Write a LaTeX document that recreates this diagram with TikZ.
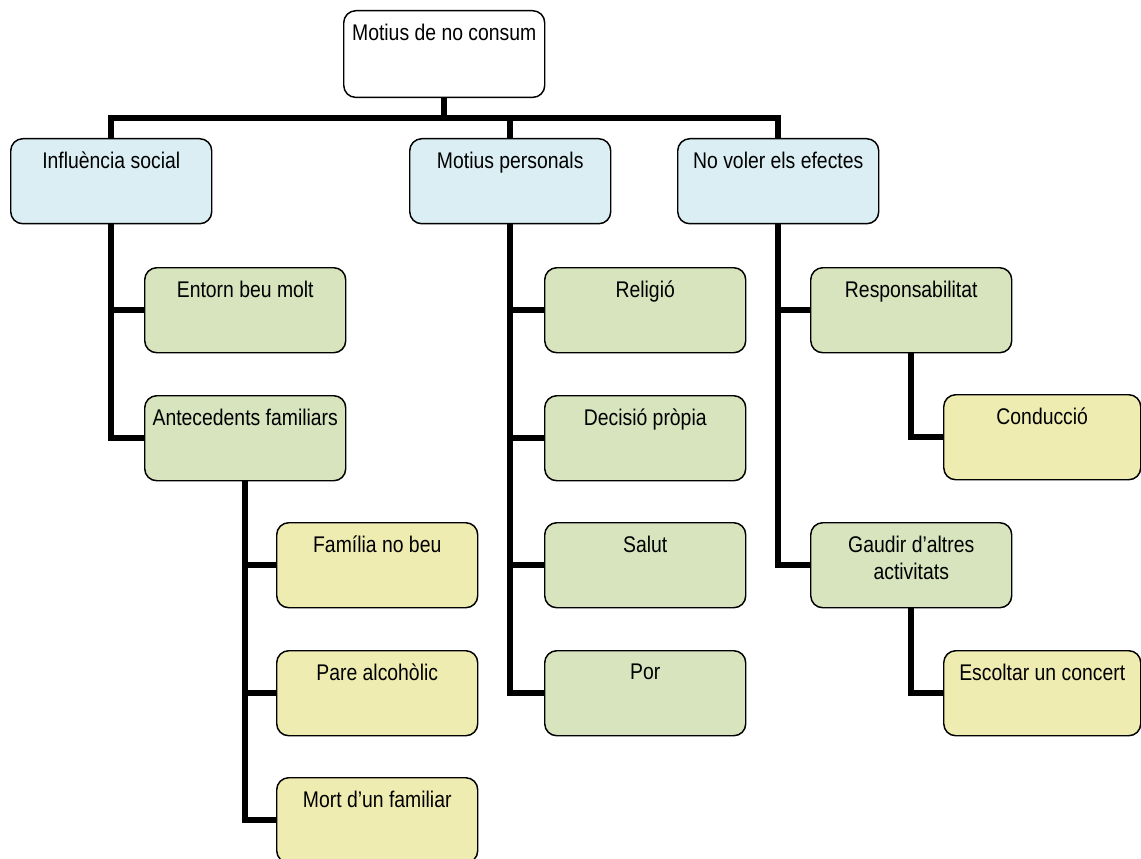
\documentclass[tikz,border=0pt]{standalone}
\usepackage{fontspec}
\setmainfont[FakeStretch=0.855]{Liberation Sans}
\usetikzlibrary{positioning, calc}
\definecolor{rootwhite}{HTML}{FFFFFF}
\definecolor{lvlblue}{HTML}{DAEEF3}
\definecolor{lvlgreen}{HTML}{D7E4BD}
\definecolor{lvlyellow}{HTML}{EEECB1}

\begin{document}
\begin{tikzpicture}[
    x=0.75pt, y=-0.75pt,
    box/.style={rectangle, draw, rounded corners=9pt, line width=1.1pt,
                minimum width=150.75pt, minimum height=63.75pt,
                anchor=north west, inner sep=0pt},
    narrowbox/.style={box, minimum width=147.75pt},
    lbl/.style={font=\fontsize{17}{20.3}\selectfont, align=center,
                inner sep=0pt, anchor=north, yshift=-10pt},
    link/.style={line width=4.5pt, line join=miter}
]
    \useasboundingbox (0,0) rectangle (1141,859);

    % top level
    \node[box, fill=rootwhite, minimum height=65pt] (root) at (343,10)
      [label={[lbl]north:Motius de no consum}] {};
    \node[box, fill=lvlblue] (social) at (10,138)
      [label={[lbl]north:Influència social}] {};
    \node[box, fill=lvlblue] (personal) at (409,138)
      [label={[lbl]north:Motius personals}] {};
    \node[box, fill=lvlblue] (effects) at (677,138)
      [label={[lbl]north:No voler els efectes}] {};

    % influencia social
    \node[box, fill=lvlgreen] (crowd) at (144,267)
      [label={[lbl]north:Entorn beu molt}] {};
    \node[box, fill=lvlgreen] (family) at (144,395)
      [label={[lbl]north:Antecedents familiars}] {};
    \node[box, fill=lvlyellow] (nodrink) at (276,522)
      [label={[lbl]north:Família no beu}] {};
    \node[box, fill=lvlyellow] (alcfather) at (276,650)
      [label={[lbl]north:Pare alcohòlic}] {};
    \node[box, fill=lvlyellow] (death) at (276,777)
      [label={[lbl]north:Mort d’un familiar}] {};

    % motius personals
    \node[box, fill=lvlgreen] (religion) at (544,267)
      [label={[lbl]north:Religió}] {};
    \node[box, fill=lvlgreen] (decision) at (544,395)
      [label={[lbl]north:Decisió pròpia}] {};
    \node[box, fill=lvlgreen] (health) at (544,522)
      [label={[lbl]north:Salut}] {};
    \node[box, fill=lvlgreen] (fear) at (544,650)
      [label={[lbl]north:Por}] {};

    % no voler els efectes
    \node[box, fill=lvlgreen] (duty) at (810,267)
      [label={[lbl]north:Responsabilitat}] {};
    \node[narrowbox, fill=lvlyellow] (driving) at (943,394)
      [label={[lbl]north:Conducció}] {};
    \node[box, fill=lvlgreen] (leisure) at (810,522)
      [label={[lbl]north:{Gaudir d’altres\\activitats}}] {};
    \node[narrowbox, fill=lvlyellow] (concert) at (943,650)
      [label={[lbl]north:Escoltar un concert}] {};

    \coordinate (bus) at (root.south |- 0,118);

    \draw[link] (root.south) -- (bus);
    \draw[link] (social.north) |- (bus) -| (effects.north);
    \draw[link] (bus -| personal.north) -- (personal.north);

    \draw[link] (social.south) |- (family.west);
    \draw[link] (social.south |- crowd.west) -- (crowd.west);
    \draw[link] (family.south) |- (death.west);
    \foreach \n in {nodrink, alcfather}
      \draw[link] (family.south |- \n.west) -- (\n.west);

    \draw[link] (personal.south) |- (fear.west);
    \foreach \n in {religion, decision, health}
      \draw[link] (personal.south |- \n.west) -- (\n.west);

    \draw[link] (effects.south) |- (leisure.west);
    \draw[link] (effects.south |- duty.west) -- (duty.west);
    \draw[link] (duty.south) |- (driving.west);
    \draw[link] (leisure.south) |- (concert.west);
\end{tikzpicture}
\end{document}
